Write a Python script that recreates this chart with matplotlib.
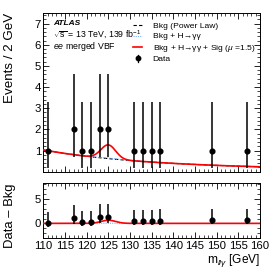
import numpy as np
import matplotlib
matplotlib.use("Agg")
import matplotlib.pyplot as plt
from matplotlib.ticker import MultipleLocator

plt.rcParams['font.family'] = ['Liberation Sans', 'DejaVu Sans']
plt.rcParams['mathtext.fontset'] = 'custom'
plt.rcParams['mathtext.rm'] = 'Liberation Sans'
plt.rcParams['mathtext.it'] = 'Liberation Sans:italic'

# ---- data (bin centres, counts, Poisson 68% intervals) ----
bin_centers = [111, 117, 119, 121, 123, 125, 131, 133, 135, 137, 149, 157]
counts = [1, 2, 1, 1, 2, 2, 1, 1, 1, 1, 1, 1]
err_low = [0.83, 1.29, 0.83, 0.83, 1.29, 1.29, 0.83, 0.83, 0.83, 0.83, 0.83, 0.83]
err_high = [2.30, 2.64, 2.30, 2.30, 2.64, 2.64, 2.30, 2.30, 2.30, 2.30, 2.30, 2.30]

# ---- fitted model parameters ----
bkg_norm_110 = 1.03      # events / 2 GeV at 110 GeV
bkg_power = 4.0
h_amp = 0.03             # SM H->gamma gamma amplitude at peak
sig_amp = 0.62           # extra signal (mu=1.5) amplitude at peak
peak_mass = 125.0
peak_width = 1.7

x_range = (110, 160)

legend_labels = ['Bkg (Power Law)', 'Bkg + H\u2192\u03b3\u03b3',
                 'Bkg + H\u2192\u03b3\u03b3 + Sig ($\\mu$ =1.5)', 'Data']


def bkg(m):
    return bkg_norm_110 * (np.asarray(m) / 110.0) ** (-bkg_power)


def peak(m, amp):
    return amp * np.exp(-0.5 * ((np.asarray(m) - peak_mass) / peak_width) ** 2)


BLUE = '#7fb2ff'
styles = [
    dict(color='black', ls=(0, (3, 2)), lw=0.8),
    dict(color=BLUE, ls=(0, (1, 1)), lw=0.8),
    dict(color='red', lw=1.2),
]

fig = plt.figure(figsize=(2.74, 2.74), dpi=100)
ax1 = fig.add_axes([0.158, 0.3734, 0.791, 0.579])
ax2 = fig.add_axes([0.158, 0.1314, 0.791, 0.2007])

m = np.linspace(x_range[0], x_range[1], 400)
xc = np.array(bin_centers, dtype=float)
yc = np.array(counts, dtype=float)

# top panel
ax1.plot(m, bkg(m), zorder=2, **styles[0])
ax1.plot(m, bkg(m) + peak(m, h_amp), zorder=3, **styles[1])
ax1.plot(m, bkg(m) + peak(m, h_amp) + peak(m, sig_amp), zorder=4, **styles[2])
ax1.errorbar(xc, yc, yerr=[err_low, err_high], fmt='o', color='black',
             ms=3.4, elinewidth=1.1, capsize=0, zorder=5)

# bottom panel
res = yc - bkg(xc)
ax2.plot(m, peak(m, h_amp), zorder=3, **styles[1])
ax2.plot(m, peak(m, h_amp) + peak(m, sig_amp), zorder=4, **styles[2])
ax2.errorbar(xc, res, yerr=[err_low, err_high], fmt='o', color='black',
             ms=3.4, elinewidth=1.1, capsize=0, zorder=5)

for ax in (ax1, ax2):
    ax.set_xlim(*x_range)
    ax.xaxis.set_major_locator(MultipleLocator(5))
    ax.xaxis.set_minor_locator(MultipleLocator(1))
    ax.tick_params(which='both', direction='in', top=True, right=True, labelsize=8.2)
    ax.tick_params(which='major', length=4, width=0.6)
    ax.tick_params(which='minor', length=2, width=0.5)
    for s in ax.spines.values():
        s.set_linewidth(0.7)

ax1.set_ylim(0, 7.5)
ax1.set_yticks([1, 2, 3, 4, 5, 6, 7])
ax1.yaxis.set_minor_locator(MultipleLocator(0.2))
ax1.tick_params(labelbottom=False)
ax1.tick_params(axis='y', pad=1.5)

ax2.set_ylim(-3, 8.3)
ax2.set_yticks([0, 5])
ax2.yaxis.set_minor_locator(MultipleLocator(1))
ax2.tick_params(axis='x', pad=2)
ax2.tick_params(axis='y', pad=1.5)

fig.text(0.038, 0.952, 'Events / 2 GeV', rotation=90, ha='center', va='top', fontsize=9.6)
fig.text(0.036, 0.332, 'Data \u2013 Bkg', rotation=90, ha='center', va='top', fontsize=9.4)
ax2.set_xlabel(r'm$_{ll\gamma}$ [GeV]', fontsize=8.6, loc='right', labelpad=1)

# annotations
ax1.text(0.045, 0.933, 'ATLAS', transform=ax1.transAxes, fontsize=6.0,
         fontweight='bold', fontstyle='italic', va='center')
ax1.text(0.045, 0.862, r'$\sqrt{\mathrm{s}}$ = 13 TeV, 139 fb$^{-1}$', transform=ax1.transAxes,
         fontsize=6.3, va='center')
ax1.text(0.045, 0.788, r'$ee$ merged VBF', transform=ax1.transAxes, fontsize=6.3, va='center')

# legend (drawn entry by entry to keep uniform row spacing)
row_y = [0.924, 0.858, 0.786, 0.714]
hx0, hx1, tx = 0.414, 0.456, 0.505
for i, lab in enumerate(legend_labels):
    y = row_y[i]
    if i < 3:
        ax1.plot([hx0, hx1], [y, y], transform=ax1.transAxes, clip_on=False, **styles[i])
    else:
        ax1.plot([(hx0 + hx1) / 2], [y], 'o', color='black', ms=3.2,
                 transform=ax1.transAxes, clip_on=False)
        ax1.plot([(hx0 + hx1) / 2] * 2, [y - 0.022, y + 0.022], color='black', lw=0.9,
                 transform=ax1.transAxes, clip_on=False)
    ax1.text(tx, y, lab, transform=ax1.transAxes, fontsize=6.1, va='center_baseline')

fig.savefig('out.png', dpi=100)
